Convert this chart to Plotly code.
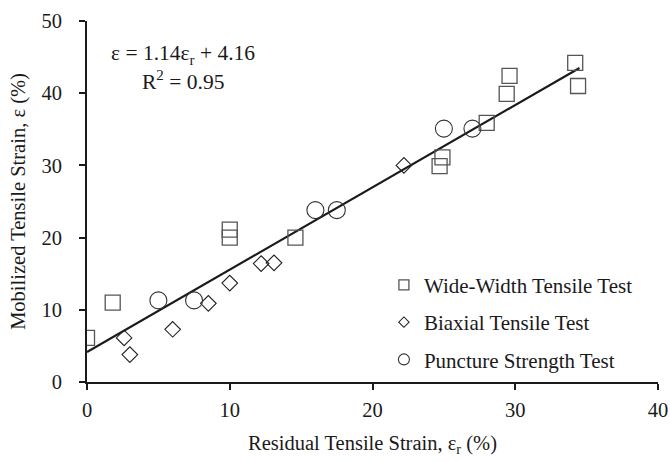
import plotly.graph_objects as go

# Wide-width tensile test (residual %, mobilized %)
wide_x = [0.0, 1.8, 10.0, 10.0, 14.6, 24.7, 24.9, 28.0, 29.4, 29.6, 34.2, 34.4]
wide_y = [6.1, 11.0, 20.0, 21.1, 20.0, 29.9, 31.1, 35.9, 39.9, 42.4, 44.2, 41.0]

# Biaxial tensile test
biax_x = [2.6, 3.0, 6.0, 8.5, 10.0, 12.2, 13.1, 22.2]
biax_y = [6.1, 3.8, 7.3, 10.9, 13.7, 16.4, 16.5, 30.0]

# Puncture strength test
punc_x = [5.0, 7.5, 16.0, 17.5, 25.0, 27.0]
punc_y = [11.3, 11.3, 23.8, 23.8, 35.1, 35.1]

# Linear fit
slope = 1.14
intercept = 4.16
r_squared = 0.95
fit_x = [0.0, 34.5]
fit_y = [slope * v + intercept for v in fit_x]

x_ticks = [0, 10, 20, 30, 40]
y_ticks = [0, 10, 20, 30, 40, 50]

FONT = "Liberation Serif"
INK = "#1a1a1a"

series = [
    ("Wide-Width Tensile Test", wide_x, wide_y, "square-open", 15, 10, "#555555", 1.3),
    ("Biaxial Tensile Test", biax_x, biax_y, "diamond-open", 12, 8, "#222222", 1.1),
    ("Puncture Strength Test", punc_x, punc_y, "circle-open", 17, 11, "#333333", 1.1),
]

fig = go.Figure()

fig.add_trace(go.Scatter(
    x=fit_x, y=fit_y, mode="lines",
    line=dict(color=INK, width=2.2),
    showlegend=False, hoverinfo="skip",
))

for i, (name, xs, ys, sym, size, leg_size, color, lw) in enumerate(series):
    fig.add_trace(go.Scatter(
        x=xs, y=ys, mode="markers", name=name, showlegend=False,
        legendgroup=f"g{i}",
        marker=dict(symbol=sym, size=size, color=color, line=dict(width=lw)),
    ))
    # smaller symbol for the legend key
    fig.add_trace(go.Scatter(
        x=[None], y=[None], mode="markers", name=name,
        legendgroup=f"g{i}",
        marker=dict(symbol=sym, size=leg_size, color=color, line=dict(width=lw)),
    ))

axis_common = dict(
    showline=True, linecolor=INK, linewidth=2,
    ticks="outside", ticklen=6, tickwidth=1.5, tickcolor=INK,
    showgrid=False, zeroline=False, automargin=False,
    ticklabeloverflow="allow",
    tickfont=dict(family=FONT, size=20.5, color=INK),
    title_font=dict(family=FONT, size=20.5, color=INK),
)

inner_ticks = dict(
    ticks="inside", ticklen=5, tickwidth=1.5, tickcolor=INK,
    showticklabels=False, showgrid=False, zeroline=False, showline=False,
    automargin=False,
)

fig.update_layout(
    width=670, height=462,
    margin=dict(l=87, r=12, t=21, b=80),
    paper_bgcolor="white", plot_bgcolor="white",
    font=dict(family=FONT, size=20.5, color=INK),
    xaxis=dict(
        range=[0, 40], tickvals=x_ticks, ticklabelstandoff=2,
        title=dict(text="Residual Tensile Strain, ε<sub>r</sub> (%)", standoff=16),
        **axis_common,
    ),
    yaxis=dict(
        range=[0, 50], tickvals=y_ticks, ticklabelstandoff=13,
        title=dict(text="Mobilized Tensile Strain, ε (%)", standoff=10),
        **axis_common,
    ),
    # inner halves of the crossing tick marks
    xaxis2=dict(overlaying="x", matches="x", anchor="y", range=[0, 40],
                tickvals=x_ticks, **inner_ticks),
    yaxis2=dict(overlaying="y", matches="y", anchor="x", range=[0, 50],
                tickvals=y_ticks, **inner_ticks),
    legend=dict(
        x=0.52, y=0.325, xanchor="left", yanchor="top",
        bgcolor="rgba(0,0,0,0)", borderwidth=0,
        font=dict(family=FONT, size=21, color=INK),
        tracegroupgap=7, itemwidth=30,
    ),
    showlegend=True,
)

fig.add_annotation(
    x=6.7, y=45.3, xref="x", yref="y", showarrow=False,
    text=f"ε = {slope:.2f}ε<sub>r</sub> + {intercept:.2f}",
    font=dict(family=FONT, size=21.5, color=INK),
)
fig.add_annotation(
    x=6.7, y=41.8, xref="x", yref="y", showarrow=False,
    text=f"R<sup>2</sup> = {r_squared:.2f}",
    font=dict(family=FONT, size=21.5, color=INK),
)

fig.write_html("out.html")
